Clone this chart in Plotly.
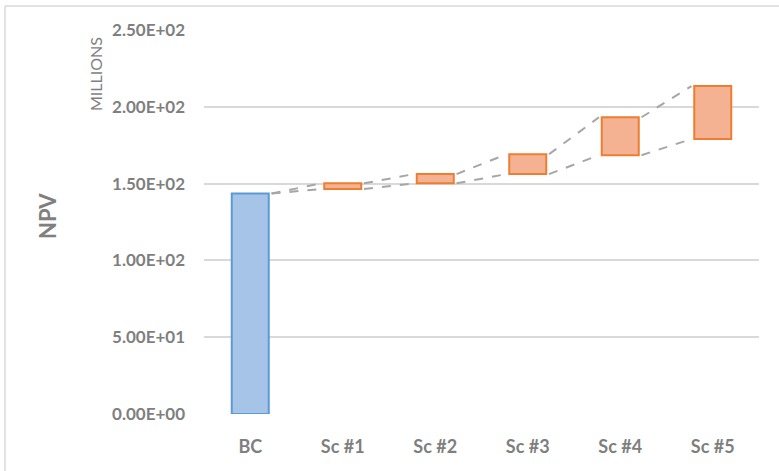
import plotly.graph_objects as go

# Scenario NPV ranges (millions)
categories = ["BC", "Sc #1", "Sc #2", "Sc #3", "Sc #4", "Sc #5"]
npv_high = [143.5, 150.2, 156.2, 169.1, 193.2, 213.5]
npv_low = [143.5, 146.5, 150.2, 156.2, 168.5, 179.0]
y_ticks = [0, 50, 100, 150, 200, 250]
y_tick_text = ["0.00E+00", "5.00E+01", "1.00E+02", "1.50E+02", "2.00E+02", "2.50E+02"]

FONT = "Lato"
GREY = "#7f7f7f"
BAR_W = 0.4
idx = list(range(len(categories)))

fig = go.Figure()

# Base case as a full bar
fig.add_trace(go.Bar(
    x=[idx[0]], y=[npv_high[0]], width=BAR_W,
    marker=dict(color="#a6c3e8", line=dict(color="#5b9bd5", width=2)),
    hoverinfo="skip",
))

# Scenario ranges as floating bars
fig.add_trace(go.Bar(
    x=idx[1:],
    y=[h - l for h, l in zip(npv_high[1:], npv_low[1:])],
    base=npv_low[1:], width=BAR_W,
    marker=dict(color="#f5b292", line=dict(color="#ed7d31", width=2)),
    hoverinfo="skip",
))

# Dashed connectors between neighbouring ranges
for series in (npv_high, npv_low):
    xs, ys = [], []
    for i in range(len(categories) - 1):
        xs += [idx[i] + BAR_W / 2 + 0.03, idx[i + 1] - BAR_W / 2 - 0.03, None]
        ys += [series[i], series[i + 1], None]
    fig.add_trace(go.Scatter(
        x=xs, y=ys, mode="lines",
        line=dict(color="#a6a6a6", width=2, dash="dash"),
        hoverinfo="skip",
    ))

fig.update_layout(
    width=779, height=471,
    margin=dict(l=204, r=20, t=30, b=57),
    plot_bgcolor="white", paper_bgcolor="white",
    showlegend=False, barmode="overlay",
    font=dict(family=FONT, color=GREY),
    xaxis=dict(
        range=[-0.5, len(categories) - 0.5],
        tickvals=idx, ticktext=[f"<b>{c}</b>" for c in categories],
        tickfont=dict(size=18, color=GREY, family=FONT),
        showgrid=False, zeroline=False, showline=False,
        ticks="", ticklabelstandoff=20,
    ),
    yaxis=dict(
        range=[0, 250],
        tickvals=y_ticks, ticktext=[f"<b>{t}</b>" for t in y_tick_text],
        tickfont=dict(size=17, color=GREY, family=FONT),
        showgrid=True, gridcolor="#d9d9d9", gridwidth=1.5,
        zeroline=False, showline=False, ticks="", ticklabelstandoff=18,
    ),
    annotations=[
        dict(text="<b>NPV</b>", textangle=-90, xref="paper", yref="paper",
             x=-0.2820, y=0.517, xanchor="center", yanchor="middle",
             showarrow=False,
             font=dict(size=22, color=GREY, family=FONT)),
        dict(text="MILLIONS", textangle=-90, xref="paper", yref="paper",
             x=-0.1965, y=0.885, xanchor="center", yanchor="middle",
             showarrow=False,
             font=dict(size=16, color=GREY, family=FONT)),
    ],
    shapes=[
        dict(type="line", xref="paper", yref="paper",
             x0=-0.3586, x1=-0.3586, y0=-0.3, y1=1.0625,
             line=dict(color="#d9d9d9", width=1.5)),
        dict(type="line", xref="paper", yref="paper",
             x0=-0.3586, x1=1.2, y0=1.0625, y1=1.0625,
             line=dict(color="#d9d9d9", width=1.5)),
    ],
)

fig.write_html("out.html")
